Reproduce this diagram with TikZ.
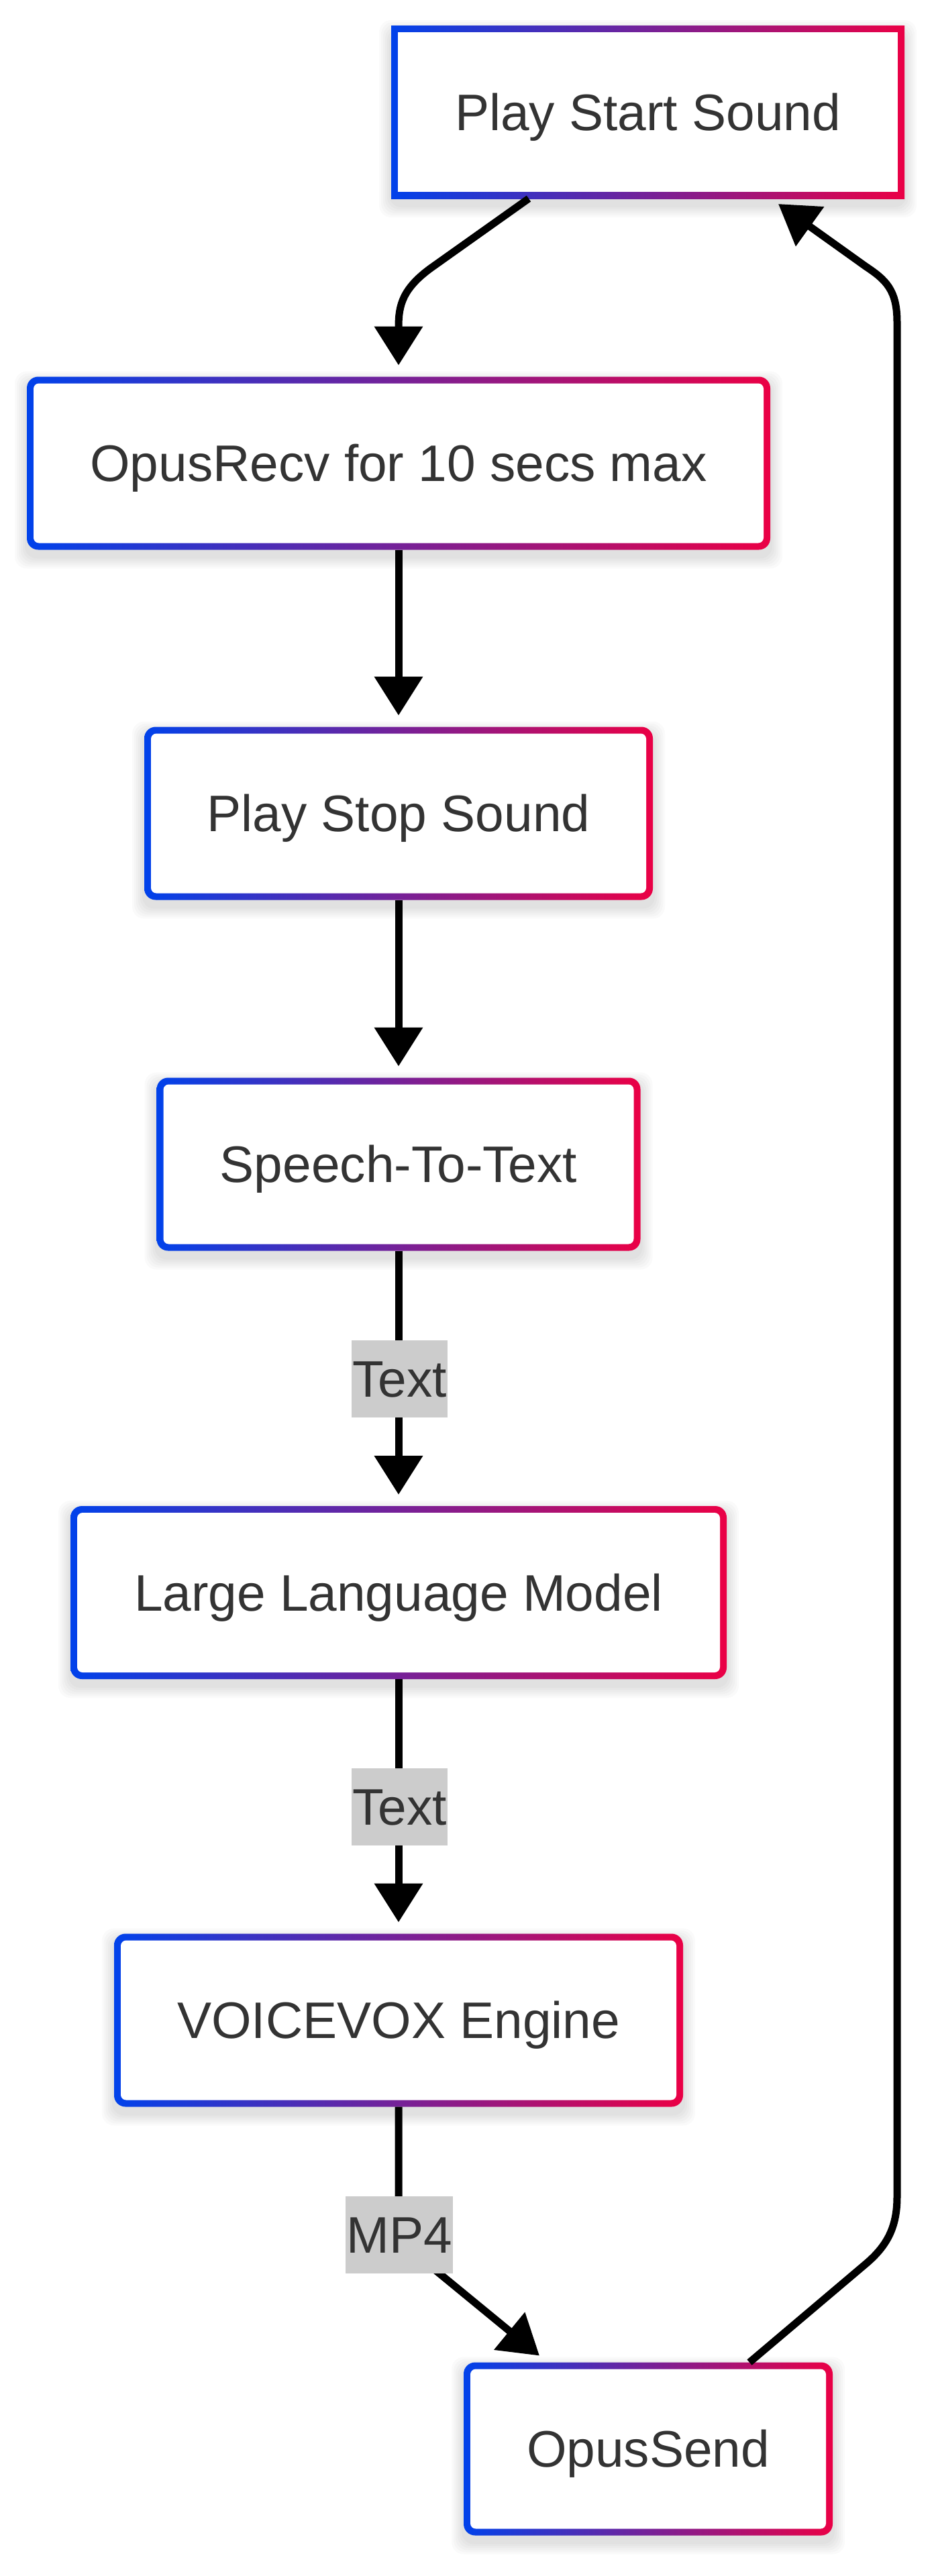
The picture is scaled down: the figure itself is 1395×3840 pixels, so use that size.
\documentclass[tikz,border=0pt]{standalone}
\usepackage{fontspec}
\setmainfont{Liberation Sans}
\usetikzlibrary{arrows.meta,calc,backgrounds}
\definecolor{cblue}{RGB}{0,66,235}
\definecolor{cred}{RGB}{235,0,69}
\definecolor{ctext}{RGB}{51,51,51}
\definecolor{clabel}{RGB}{204,204,204}
\begin{document}
\begin{tikzpicture}[x=0.5pt,y=-0.5pt,
  flowbox/.style={rectangle, inner sep=0pt, outer sep=0pt, minimum height=129pt,
    text=ctext, font=\fontsize{38.3}{46}\selectfont, text height=27.4pt, text depth=0pt,
    path picture={
      \shade[left color=cblue, right color=cred]
        ($(path picture bounding box.north west)+(-1pt,1pt)$) rectangle ($(path picture bounding box.south east)+(1pt,-1pt)$);
      \fill[white, rounded corners=#1]
        ($(path picture bounding box.north west)+(5pt,-5pt)$) rectangle ($(path picture bounding box.south east)+(-5pt,5pt)$);
    }},
  roundbox/.style={flowbox=4pt, rounded corners=8.5pt},
  squarebox/.style={flowbox=0pt},
  elabel/.style={rectangle, fill=clabel, text=ctext, font=\fontsize{38.3}{46}\selectfont,
    inner xsep=0pt, inner ysep=0pt, minimum height=57.5pt, text height=27.4pt, text depth=0pt},
  edge/.style={line width=5.5pt, draw=black, -{Triangle[length=29pt,width=35pt]}}
]
\useasboundingbox (0,0) rectangle (1395,3840);

% nodes
\node[squarebox, minimum width=382.5pt] (n1) at (965.5,167) {Play Start Sound};
\node[roundbox, minimum width=554pt] (n2) at (594,690.5) {OpusRecv for 10 secs max};
\node[roundbox, minimum width=379pt] (n3) at (594,1212.5) {Play Stop Sound};
\node[roundbox, minimum width=360.5pt] (n4) at (594,1735.5) {Speech-To-Text};
\node[roundbox, minimum width=489pt] (n5) at (594,2374) {Large Language Model};
\node[roundbox, minimum width=424pt] (n6) at (594,3011.5) {VOICEVOX Engine};
\node[roundbox, minimum width=275pt] (n7) at (966,3650.5) {OpusSend};

% background and shadows
\begin{scope}[on background layer]
  \fill[white] (0,0) rectangle (1395,3840);
  \foreach \n in {n1,n2,n3,n4,n5,n6,n7}{
    \foreach \k in {1,...,6}{
      \fill[black, opacity=0.018, rounded corners=9pt]
        ($(\n.north west)+(-1.5*\k pt, 1.5*\k pt - 5pt)$) rectangle
        ($(\n.south east)+(1.5*\k pt, -1.5*\k pt - 5pt)$);
    }
  }
\end{scope}

% edges
\draw[edge] ($(n1.south)+(-177.5,0)$) -- (643,399)
  .. controls (600,430) and (594,455) .. (594,487) -- ($(n2.north)+(0,-17)$);
\draw[edge] (n2.south) -- ($(n3.north)+(0,-17)$);
\draw[edge] (n3.south) -- ($(n4.north)+(0,-17)$);
\draw[edge] (n4.south) -- ($(n5.north)+(0,-17)$);
\draw[edge] (n5.south) -- ($(n6.north)+(0,-17)$);
\draw[edge] (n6.south) -- (594,3290)
  .. controls (594,3330) and (612,3353) .. (650,3385) -- ($(n7.north)+(-162,-10)$);
\draw[edge] ($(n7.north)+(151,0)$) -- (1290,3375)
  .. controls (1322,3348) and (1337,3320) .. (1337,3275) -- (1337,480)
  .. controls (1337,432) and (1320,417) .. (1290,397) -- ($(n1.south)+(194.5,8)$);

% edge labels
\node[elabel, minimum width=71.5pt] (l1) at (595.5,2055) {Text};
\node[elabel, minimum width=71.5pt] (l2) at (595.5,2693.5) {Text};
\node[elabel, minimum width=80pt] (l3) at (595,3331.5) {MP4};
\end{tikzpicture}
\end{document}
